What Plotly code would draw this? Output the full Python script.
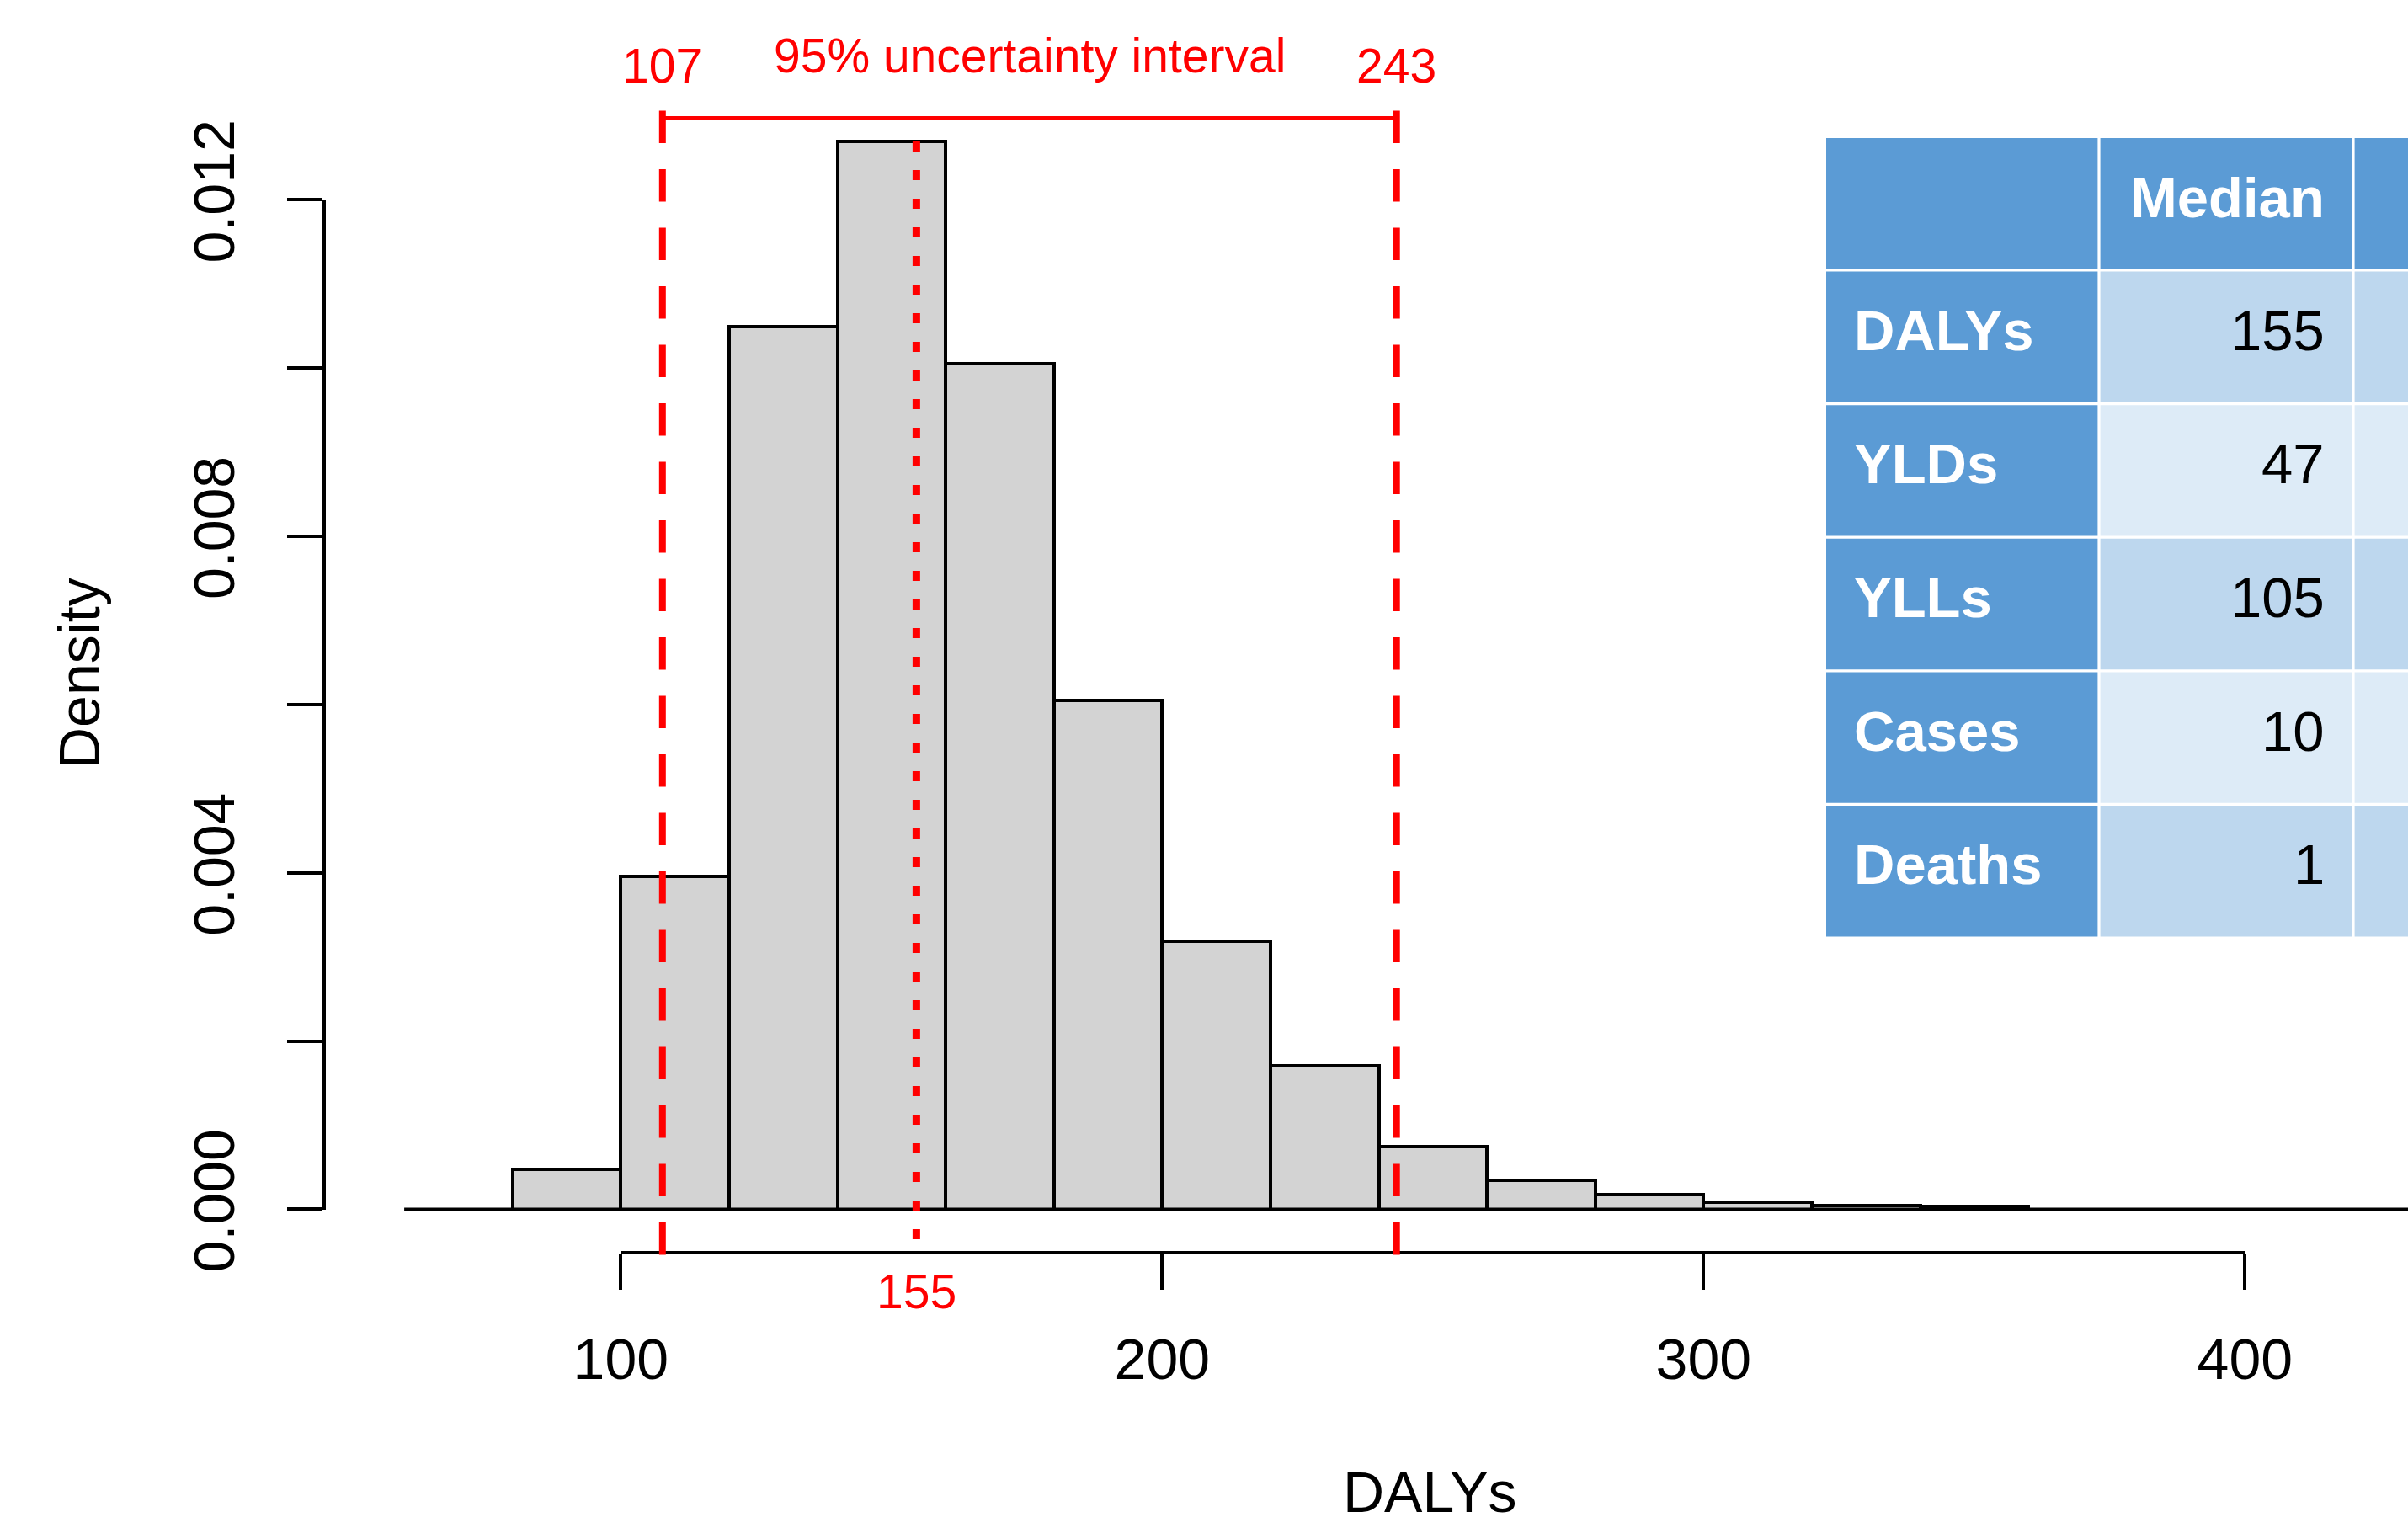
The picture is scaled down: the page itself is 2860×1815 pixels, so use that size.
import plotly.graph_objects as go

# ---------------- data ----------------
breaks = [80, 100, 120, 140, 160, 180, 200, 220, 240, 260, 280, 300, 320, 340, 360]
density = [0.00048, 0.00396, 0.01049, 0.012695, 0.01005, 0.00605, 0.003187,
           0.001707, 0.000749, 0.000348, 0.000175, 0.000085, 0.00005, 0.00004]

ui_lower = 107.7
ui_median = 154.6
ui_upper = 243.3
lower_label = "107"
median_label = "155"
upper_label = "243"
ui_title = "95% uncertainty interval"

x_tickvals = [100, 200, 300, 400]
x_ticktext = ["100", "200", "300", "400"]
y_tickvals = [0.000, 0.002, 0.004, 0.006, 0.008, 0.010, 0.012]
y_ticktext = ["0.000", "", "0.004", "", "0.008", "", "0.012"]
x_title = "DALYs"
y_title = "Density"

table_header = ["", "Median", ""]
table_rows = ["DALYs", "YLDs", "YLLs", "Cases", "Deaths"]
table_median = ["155", "47", "105", "10", "1"]

# ---------------- layout constants (pixels) ----------------
W, H = 2860, 1815
X100_PX = 737.3          # pixel of x = 100
X_PPU = 6.43             # pixels per x unit
Y0_PX = 1436.5           # pixel of y = 0
Y_PPU = 99917.0          # pixels per y unit
LW = 4                   # black line width

def px_x(v):
    return X100_PX + (v - 100) * X_PPU

x_range = [100 - X100_PX / X_PPU, 100 + (W - X100_PX) / X_PPU]
y_range = [-(H - Y0_PX) / Y_PPU, Y0_PX / Y_PPU]

FONT = "Liberation Sans, Arial, sans-serif"
RED = "#FF0000"

centers = [(a + b) / 2 for a, b in zip(breaks[:-1], breaks[1:])]
widths = [b - a for a, b in zip(breaks[:-1], breaks[1:])]

fig = go.Figure()

fig.add_trace(go.Bar(
    x=centers, y=density, width=widths,
    marker=dict(color="#D3D3D3", line=dict(color="black", width=LW)),
    showlegend=False, hoverinfo="skip",
))

# empty trace to carry the R-style detached axes
fig.add_trace(go.Scatter(x=[None], y=[None], xaxis="x2", yaxis="y2",
                         mode="markers", showlegend=False, hoverinfo="skip"))

shapes = []
annotations = []

# baseline (y = 0)
shapes.append(dict(type="line", xref="x", yref="y", x0=60, x1=x_range[1] + 20,
                   y0=0, y1=0, line=dict(color="black", width=LW), layer="above"))

# uncertainty interval dashed lines
y_axis_line = -(1490.5 - Y0_PX) / Y_PPU
y_plot_top = (Y0_PX - 117) / Y_PPU
for xv in (ui_lower, ui_upper):
    shapes.append(dict(type="line", xref="x", yref="y", x0=xv, x1=xv,
                       y0=y_axis_line, y1=y_plot_top,
                       line=dict(color=RED, width=8, dash="38.5px,31px"), layer="above"))

# median dotted line
shapes.append(dict(type="line", xref="x", yref="y", x0=ui_median, x1=ui_median,
                   y0=max(density), y1=y_axis_line,
                   line=dict(color=RED, width=9, dash="12px,22px"), layer="above"))

# bracket
y_bracket = (Y0_PX - 140) / Y_PPU
shapes.append(dict(type="line", xref="x", yref="y", x0=ui_lower, x1=ui_upper,
                   y0=y_bracket, y1=y_bracket,
                   line=dict(color=RED, width=4), layer="above"))
for xv in (ui_lower, ui_upper):
    shapes.append(dict(type="line", xref="x", yref="y", x0=xv, x1=xv,
                       y0=y_bracket + 5 / Y_PPU, y1=y_bracket - 5 / Y_PPU,
                       line=dict(color=RED, width=4), layer="above"))

# red labels
red_font = dict(family=FONT, size=57, color=RED)
annotations.append(dict(x=ui_lower, y=(Y0_PX - 78) / Y_PPU, xref="x", yref="y",
                        text=lower_label, showarrow=False, font=red_font,
                        xanchor="center", yanchor="middle"))
annotations.append(dict(x=ui_upper, y=(Y0_PX - 78) / Y_PPU, xref="x", yref="y",
                        text=upper_label, showarrow=False, font=red_font,
                        xanchor="center", yanchor="middle"))
annotations.append(dict(x=(ui_lower + ui_upper) / 2, y=(Y0_PX - 66) / Y_PPU,
                        xref="x", yref="y", text=ui_title, showarrow=False,
                        font=red_font, xanchor="center", yanchor="middle"))
annotations.append(dict(x=ui_median, y=(Y0_PX - 1534) / Y_PPU, xref="x", yref="y",
                        text=median_label, showarrow=False, font=red_font,
                        xanchor="center", yanchor="middle"))

# axis titles
annotations.append(dict(x=1698 / W, y=1 - 1772 / H, xref="paper", yref="paper",
                        text=x_title, showarrow=False,
                        font=dict(family=FONT, size=68, color="black"),
                        xanchor="center", yanchor="middle"))
annotations.append(dict(x=94 / W, y=1 - 800 / H, xref="paper", yref="paper",
                        text=y_title, showarrow=False, textangle=-90,
                        font=dict(family=FONT, size=68, color="black"),
                        xanchor="center", yanchor="middle"))

# ---------------- table ----------------
col_edges = [2169, 2493, 2795, 2900]
row_edges = [164, 321]
for i in range(len(table_rows)):
    row_edges.append(321 + (i + 1) * 158.6)
BLUE = "#5B9BD5"
BAND1 = "#BDD7EE"
BAND2 = "#DDEBF7"
GAP = 1.6

def cell(c, r, color):
    shapes.append(dict(type="rect", xref="paper", yref="paper",
                       x0=(col_edges[c] + (GAP if c > 0 else 0)) / W,
                       x1=(col_edges[c + 1] - GAP) / W,
                       y0=1 - (row_edges[r + 1] - GAP) / H,
                       y1=1 - (row_edges[r] + (GAP if r > 0 else 0)) / H,
                       fillcolor=color, line=dict(width=0), layer="above"))

n_cols = len(table_header)
for c in range(n_cols):
    cell(c, 0, BLUE)
for r in range(len(table_rows)):
    cell(0, r + 1, BLUE)
    for c in range(1, n_cols):
        cell(c, r + 1, BAND1 if r % 2 == 0 else BAND2)

def row_mid(r):
    return 1 - ((row_edges[r] + row_edges[r + 1]) / 2 - 8) / H

for c, txt in enumerate(table_header):
    if txt:
        annotations.append(dict(x=(col_edges[c + 1] - 32) / W, y=row_mid(0),
                                xref="paper", yref="paper", text=txt, showarrow=False,
                                font=dict(family=FONT, size=67, color="white", weight="bold"),
                                xanchor="right", yanchor="middle"))
for r, (lab, val) in enumerate(zip(table_rows, table_median)):
    annotations.append(dict(x=(col_edges[0] + 31) / W, y=row_mid(r + 1),
                            xref="paper", yref="paper", text=lab, showarrow=False,
                            font=dict(family=FONT, size=67, color="white", weight="bold"),
                            xanchor="left", yanchor="middle"))
    annotations.append(dict(x=(col_edges[2] - 32) / W, y=row_mid(r + 1),
                            xref="paper", yref="paper", text=val, showarrow=False,
                            font=dict(family=FONT, size=67, color="black"),
                            xanchor="right", yanchor="middle"))

axis_font = dict(family=FONT, size=68, color="black")

fig.update_layout(
    width=W, height=H,
    margin=dict(l=0, r=0, t=0, b=0, pad=0),
    paper_bgcolor="white", plot_bgcolor="rgba(0,0,0,0)",
    bargap=0,
    showlegend=False,
    shapes=shapes,
    annotations=annotations,
    xaxis=dict(domain=[0, 1], range=x_range, visible=False, fixedrange=True),
    yaxis=dict(domain=[0, 1], range=y_range, visible=False, fixedrange=True),
    xaxis2=dict(domain=[px_x(100) / W, px_x(400) / W], range=[100, 400],
                anchor="free", position=1 - 1488 / H,
                showline=True, linecolor="black", linewidth=LW,
                ticks="outside", ticklen=42, tickwidth=LW, tickcolor="black",
                tickvals=x_tickvals, ticktext=x_ticktext, tickfont=axis_font,
                ticklabelstandoff=24,
                showgrid=False, zeroline=False, fixedrange=True, automargin=False),
    yaxis2=dict(domain=[1 - Y0_PX / H, 1 - (Y0_PX - 0.012 * Y_PPU) / H],
                range=[0, 0.012], anchor="free", position=384.5 / W, side="left",
                showline=True, linecolor="black", linewidth=LW,
                ticks="outside", ticklen=42, tickwidth=LW, tickcolor="black",
                tickvals=y_tickvals, ticktext=y_ticktext, tickfont=axis_font,
                tickangle=-90, ticklabelstandoff=35,
                showgrid=False, zeroline=False, fixedrange=True, automargin=False),
)

fig.write_html("out.html", config={"displayModeBar": False},
               post_script="document.body.style.margin='0px';")
